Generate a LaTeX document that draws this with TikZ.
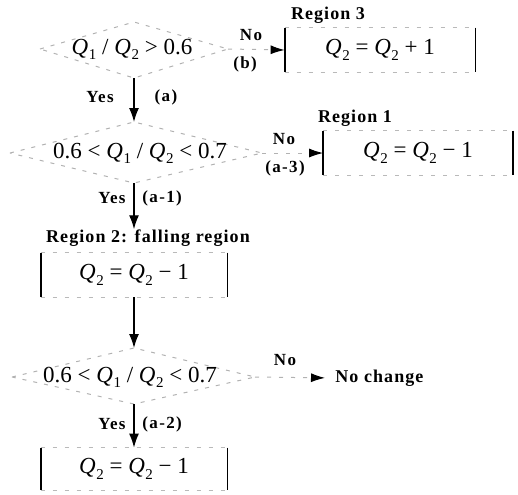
\documentclass[tikz,border=0pt]{standalone}
\usepackage{fontspec}
\setmainfont{Liberation Serif}
\usetikzlibrary{arrows.meta}
\newcommand{\QQ}[1]{\textit{Q}\kern0.3pt\raisebox{-0.5ex}{\fontsize{7.5}{8}\selectfont #1}}
\tikzset{
  mathtxt/.style={font=\fontsize{11.5}{13}\selectfont, inner sep=0pt},
  lbl/.style={font=\fontsize{8.5}{10}\selectfont\bfseries\addfontfeature{LetterSpace=8}, inner sep=0pt},
  reglbl/.style={font=\fontsize{9}{10}\selectfont\bfseries\addfontfeature{LetterSpace=6}, inner sep=0pt},
  diam/.style={draw=gray!60, line width=0.5pt, dash pattern=on 2pt off 3.5pt},
  vedge/.style={draw=black, line width=0.9pt},
  hedge/.style={draw=gray!55, line width=0.5pt, dash pattern=on 2pt off 4pt},
  box/.style={inner sep=0pt, font=\fontsize{11.5}{13}\selectfont},
  varr/.style={draw=black, line width=0.7pt, -{Latex[length=7pt,width=5pt]}},
  harr/.style={draw=gray!60, line width=0.5pt, dash pattern=on 2pt off 4pt, -{Latex[length=7pt,width=4.5pt,color=black]}}
}
\begin{document}
\begin{tikzpicture}[x=0.5pt,y=-0.5pt]
\useasboundingbox (0,0) rectangle (518,494);
% ---------- diamond 1
\coordinate (d1l) at (40,49); \coordinate (d1r) at (228,49);
\coordinate (d1t) at (134,22); \coordinate (d1b) at (134,78);
\draw[diam] (d1l) -- (d1t) -- (d1r) -- (d1b) -- cycle;
\node[mathtxt] (d1) at (132,49) {\QQ{1} / \QQ{2} > 0.6};
% ---------- box region 3
\node[box, minimum width=95pt, minimum height=22pt] (bR3) at (380,50) {\QQ{2} = \QQ{2} + 1};
\node[reglbl] (lR3) at (328,15) {Region 3};
% ---------- diamond 2
\coordinate (d2l) at (10,153); \coordinate (d2r) at (262,153);
\coordinate (d2t) at (134,122); \coordinate (d2b) at (134,183);
\draw[diam] (d2l) -- (d2t) -- (d2r) -- (d2b) -- cycle;
\node[mathtxt] (d2) at (140,153) {0.6 < \QQ{1} / \QQ{2} < 0.7};
% ---------- box region 1
\node[box, minimum width=94.5pt, minimum height=22pt] (bR1) at (418,153) {\QQ{2} = \QQ{2} − 1};
\node[reglbl] (lR1) at (355,118) {Region 1};
% ---------- region 2 box
\node[reglbl] (lR2) at (148,238) {Region 2: falling region};
\node[box, minimum width=93pt, minimum height=22pt] (b2) at (134,275) {\QQ{2} = \QQ{2} − 1};
% ---------- diamond 3
\coordinate (d3l) at (12,377); \coordinate (d3r) at (255,377);
\coordinate (d3t) at (134,348); \coordinate (d3b) at (134,404);
\draw[diam] (d3l) -- (d3t) -- (d3r) -- (d3b) -- cycle;
\node[mathtxt] (d3) at (130,377) {0.6 < \QQ{1} / \QQ{2} < 0.7};
\node[reglbl, anchor=west] (nc) at (335,378) {No change};
% ---------- box 3
\node[box, minimum width=93pt, minimum height=21pt] (b3) at (134,469) {\QQ{2} = \QQ{2} − 1};
% ---------- box edges
\foreach \b in {bR3,bR1,b2,b3}{
  \draw[vedge] (\b.north west) -- (\b.south west);
  \draw[vedge] (\b.north east) -- (\b.south east);
  \draw[hedge] (\b.north west) -- (\b.north east);
  \draw[hedge] (\b.south west) -- (\b.south east);
}
% ---------- connectors
\draw[varr] (d1b) -- (d2t);
\draw[varr] (d2b) -- (d2b |- lR2.north);
\draw[varr] (b2.south) -- (d3t);
\draw[varr] (d3b) -- (b3.north);
\draw[harr] (d1r) -- (bR3.west);
\draw[harr] (d2r) -- (bR1.west);
\draw[harr, shorten >=5pt] (d3r) -- (nc.west);
% ---------- labels
\node[lbl] (y1) at (100,97) {Yes};
\node[lbl] (a1) at (166,97) {(a)};
\node[lbl] (n1) at (251,35) {No};
\node[lbl] (b1) at (245,64) {(b)};
\node[lbl] (n2) at (284,139) {No};
\node[lbl] (a3) at (285,168) {(a-3)};
\node[lbl, anchor=east] (y2) at (126,198) {Yes};
\node[lbl, anchor=west] (a11) at (142,198) {(a-1)};
\node[lbl] (n3) at (285,360) {No};
\node[lbl, anchor=east] (y3) at (126,424) {Yes};
\node[lbl, anchor=west] (a2) at (142,424) {(a-2)};
\end{tikzpicture}
\end{document}
